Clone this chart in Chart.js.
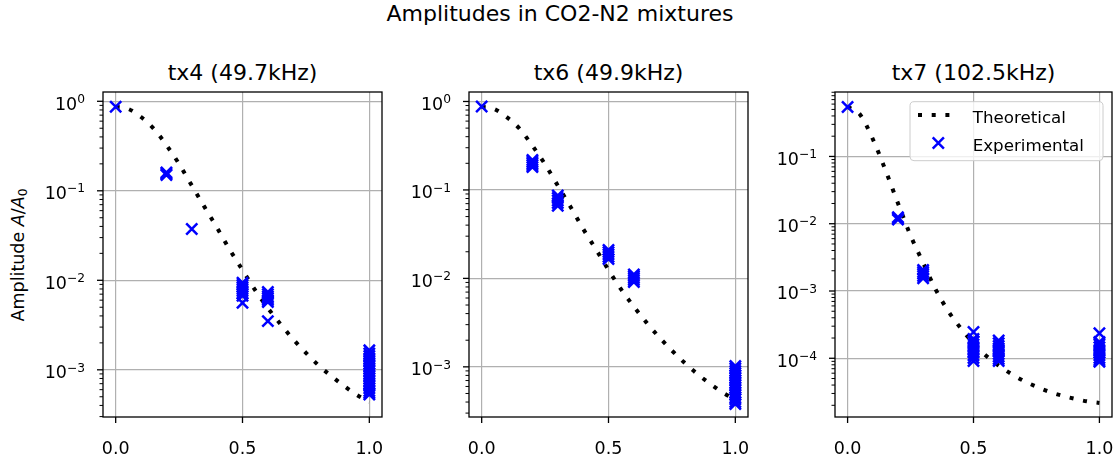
<!DOCTYPE html>
<html lang="en">
<head>
<meta charset="UTF-8">
<title>Amplitudes in CO2-N2 mixtures</title>
<script src="https://cdn.jsdelivr.net/npm/chart.js"></script>
<style>
  body { margin: 0; width: 1120px; height: 457px; background: #fff; position: relative; overflow: hidden;
         font-family: "DejaVu Sans", sans-serif; color: #000; }
  .title { position: absolute; font-size: 22px; line-height: 22px; white-space: nowrap; transform: translateX(-50%); }
  .panel { position: absolute; top: 88px; height: 367px; }
  #ylabel { position: absolute; font-size: 17.5px; line-height: 20px; white-space: nowrap; width: 200px;
            text-align: center; left: -81.7px; top: 245px; transform: rotate(-90deg); }
  #ylabel sub { font-size: 70%; vertical-align: -0.25em; line-height: 0; }
</style>
</head>
<body>
<div class="title" style="left:560px; top:3.4px;">Amplitudes in CO2-N2 mixtures</div>
<div class="title" style="left:242.5px; top:62.4px;">tx4 (49.7kHz)</div>
<div class="title" style="left:608.5px; top:62.4px;">tx6 (49.9kHz)</div>
<div class="title" style="left:973.5px; top:62.4px;">tx7 (102.5kHz)</div>
<div id="ylabel">Amplitude <i>A</i>/<i>A</i><sub>0</sub></div>

<div class="panel" style="left:43px; width:343px;"><canvas id="c1"></canvas></div>
<div class="panel" style="left:409px; width:343px;"><canvas id="c2"></canvas></div>
<div class="panel" style="left:775px; width:341px;"><canvas id="c3"></canvas></div>

<script>
// gas fraction axis for the theory curves
const xTheory = [0, 0.05, 0.1, 0.15, 0.2, 0.25, 0.3, 0.35, 0.4, 0.45, 0.5,
                 0.55, 0.6, 0.65, 0.7, 0.75, 0.8, 0.85, 0.9, 0.95, 1.0];
const xTicks = [0, 0.5, 1.0];

// tx4 (49.7kHz)
const tx4Theory = [0.871, 0.822, 0.668, 0.495, 0.324, 0.1995, 0.1148, 0.0661, 0.0385, 0.0219, 0.01303,
                   0.00776, 0.0049, 0.00324, 0.00219, 0.00155, 0.00112, 0.000851, 0.000661, 0.000525, 0.000437];
const tx4ExpX = [0, 0.2, 0.2, 0.2, 0.3,
                 0.5, 0.5, 0.5, 0.5, 0.5, 0.5, 0.5, 0.5,
                 0.6, 0.6, 0.6, 0.6, 0.6, 0.6, 0.6,
                 1, 1, 1, 1, 1, 1, 1, 1, 1, 1, 1, 1, 1, 1, 1, 1, 1, 1, 1];
const tx4ExpY = [0.87, 0.16, 0.155, 0.15, 0.0374,
                 0.0094, 0.0089, 0.0084, 0.0080, 0.0076, 0.0071, 0.0067, 0.0056,
                 0.0074, 0.0070, 0.0066, 0.0063, 0.0060, 0.0057, 0.0035,
                 0.00165, 0.00152, 0.00143, 0.00134, 0.00125, 0.00117, 0.00110, 0.00103, 0.00097, 0.00091,
                 0.00085, 0.00080, 0.00075, 0.00070, 0.00066, 0.00062, 0.00058, 0.00055, 0.00053];
const tx4YRange = [2.97e-4, 1.27];
const tx4YTicks = [1e-3, 1e-2, 1e-1, 1];

// tx6 (49.9kHz)
const tx6Theory = [0.871, 0.822, 0.661, 0.490, 0.316, 0.195, 0.112, 0.0646, 0.0363, 0.0214, 0.01245,
                   0.0075, 0.00479, 0.00316, 0.00216, 0.00153, 0.00111, 0.000832, 0.000646, 0.000513, 0.000427];
const tx6ExpX = [0, 0.2, 0.2, 0.2, 0.2, 0.2, 0.3, 0.3, 0.3, 0.3, 0.3,
                 0.5, 0.5, 0.5, 0.5, 0.5, 0.6, 0.6, 0.6, 0.6, 0.6,
                 1, 1, 1, 1, 1, 1, 1, 1, 1, 1, 1, 1, 1, 1, 1, 1, 1];
const tx6ExpY = [0.877, 0.218, 0.208, 0.199, 0.190, 0.181, 0.0865, 0.081, 0.076, 0.071, 0.066,
                 0.021, 0.0198, 0.0187, 0.0176, 0.0165, 0.0111, 0.0106, 0.0101, 0.0096, 0.0091,
                 0.00102, 0.00096, 0.00090, 0.00085, 0.00080, 0.00075, 0.00070, 0.00066, 0.00062,
                 0.00058, 0.00055, 0.00051, 0.00048, 0.00045, 0.00043, 0.00040, 0.00038];
const tx6YRange = [2.71e-4, 1.28];
const tx6YTicks = [1e-3, 1e-2, 1e-1, 1];

// tx7 (102.5kHz)
const tx7Theory = [0.547, 0.417, 0.182, 0.0631, 0.0202, 0.00668, 0.00263, 0.00105, 0.000501, 0.000278, 0.000167,
                   0.000109, 0.0000778, 0.0000585, 0.000046, 0.0000378, 0.0000319, 0.0000279, 0.0000251, 0.0000229, 0.0000217];
const tx7ExpX = [0, 0.2, 0.2, 0.2, 0.3, 0.3, 0.3, 0.3, 0.3,
                 0.5, 0.5, 0.5, 0.5, 0.5, 0.5, 0.5, 0.5, 0.5, 0.5,
                 0.6, 0.6, 0.6, 0.6, 0.6, 0.6, 0.6, 0.6, 0.6,
                 1, 1, 1, 1, 1, 1, 1, 1, 1, 1];
const tx7ExpY = [0.543, 0.0125, 0.0120, 0.0115, 0.00206, 0.00192, 0.00180, 0.00167, 0.00155,
                 0.000246, 0.000194, 0.000177, 0.000161, 0.000147, 0.000134, 0.000122, 0.000111, 0.000101, 0.0000912,
                 0.000184, 0.000168, 0.000153, 0.000140, 0.000128, 0.000116, 0.000106, 0.0000975, 0.0000912,
                 0.000235, 0.000175, 0.000160, 0.000146, 0.000133, 0.000121, 0.000111, 0.000101, 0.0000935, 0.0000885];
const tx7YRange = [1.34e-5, 0.908];
const tx7YTicks = [1e-4, 1e-3, 1e-2, 1e-1];

const BLUE = '#0000ff';
const GRID = '#b0b0b0';
const FONT = '"DejaVu Sans", sans-serif';

// box around the axes, matplotlib style tick marks and 10^n labels
const frame = {
    id: 'frame',
    afterDatasetsDraw(chart) {
        const { ctx, chartArea: a, scales: { x, y } } = chart;
        ctx.save();
        ctx.strokeStyle = '#000';
        ctx.lineWidth = 1.3;
        ctx.beginPath();
        x.ticks.forEach(t => {
            const px = x.getPixelForValue(t.value);
            ctx.moveTo(px, a.bottom);
            ctx.lineTo(px, a.bottom + 6);
        });
        ctx.stroke();
        const lo = Math.floor(Math.log10(y.min)), hi = Math.floor(Math.log10(y.max));
        for (let e = lo; e <= hi; e++) {
            for (let k = 1; k <= 9; k++) {
                const v = k * Math.pow(10, e);
                if (v < y.min || v > y.max) continue;
                const py = y.getPixelForValue(v);
                ctx.lineWidth = k === 1 ? 1.3 : 1;
                ctx.beginPath();
                ctx.moveTo(a.left, py);
                ctx.lineTo(a.left - (k === 1 ? 6 : 3.5), py);
                ctx.stroke();
            }
        }
        ctx.lineWidth = 1.3;
        ctx.strokeRect(a.left, a.top, a.right - a.left, a.bottom - a.top);

        // y tick labels: "10" with a raised, smaller exponent
        ctx.fillStyle = '#000';
        ctx.textAlign = 'right';
        ctx.textBaseline = 'alphabetic';
        const right = a.left - 18;
        y.ticks.forEach(t => {
            const py = y.getPixelForValue(t.value);
            const exp = Math.round(Math.log10(t.value));
            const supText = (exp < 0 ? '\u2212' : '') + Math.abs(exp);
            ctx.font = '12.25px ' + FONT;
            const sw = ctx.measureText(supText).width;
            ctx.fillText(supText, right, py + 1.7);
            ctx.font = '17.5px ' + FONT;
            ctx.fillText('10', right - sw, py + 8.3);
        });
        ctx.restore();
    }
};

// legend drawn inside the plot area, upper right
const innerLegend = {
    id: 'innerLegend',
    afterDatasetsDraw(chart) {
        const { ctx, chartArea: a } = chart;
        const w = 193, h = 59;
        const bx = a.right - 9 - w, by = a.top + 9.7;
        const exp = chart.data.datasets[0], theo = chart.data.datasets[1];
        ctx.save();
        ctx.beginPath();
        ctx.roundRect(bx, by, w, h, 4);
        ctx.fillStyle = 'rgba(255,255,255,0.8)';
        ctx.fill();
        ctx.strokeStyle = '#cccccc';
        ctx.lineWidth = 1;
        ctx.stroke();

        ctx.strokeStyle = theo.borderColor;
        ctx.lineWidth = theo.borderWidth;
        ctx.setLineDash(theo.borderDash);
        ctx.beginPath();
        ctx.moveTo(bx + 8, by + 13.3);
        ctx.lineTo(bx + 42, by + 13.3);
        ctx.stroke();
        ctx.setLineDash([]);

        const cx = bx + 28.3, cy = by + 41.3, r = 5.6;
        ctx.strokeStyle = exp.borderColor;
        ctx.lineWidth = exp.pointBorderWidth;
        ctx.beginPath();
        ctx.moveTo(cx - r, cy - r); ctx.lineTo(cx + r, cy + r);
        ctx.moveTo(cx + r, cy - r); ctx.lineTo(cx - r, cy + r);
        ctx.stroke();

        ctx.fillStyle = '#000';
        ctx.font = '16.7px ' + FONT;
        ctx.textAlign = 'left';
        ctx.textBaseline = 'alphabetic';
        ctx.fillText(theo.label, bx + 62.7, by + 21.6);
        ctx.fillText(exp.label, bx + 62.7, by + 49.3);
        ctx.restore();
    }
};

function makeChart(id, theory, expX, expY, yRange, yTicks, extra) {
    return new Chart(document.getElementById(id), {
        type: 'scatter',
        data: {
            datasets: [{
                label: 'Experimental',
                data: expX.map((x, i) => ({ x: x, y: expY[i] })),
                pointStyle: 'crossRot',
                pointRadius: 7.9,
                pointBorderWidth: 2.5,
                borderColor: BLUE,
                backgroundColor: BLUE,
                order: 0
            }, {
                label: 'Theoretical',
                data: xTheory.map((x, i) => ({ x: x, y: theory[i] })),
                showLine: true,
                borderColor: '#000',
                backgroundColor: '#000',
                borderWidth: 4,
                borderDash: [4, 9.7],
                borderCapStyle: 'butt',
                cubicInterpolationMode: 'monotone',
                pointRadius: 0,
                fill: false,
                order: 1
            }]
        },
        options: {
            responsive: true,
            maintainAspectRatio: false,
            animation: false,
            events: [],
            layout: { autoPadding: false, padding: { top: 4, right: 4, left: 0, bottom: 0 } },
            plugins: { legend: { display: false }, tooltip: { enabled: false } },
            scales: {
                x: {
                    type: 'linear',
                    min: -0.05,
                    max: 1.05,
                    afterBuildTicks: s => { s.ticks = xTicks.map(v => ({ value: v })); },
                    afterFit: s => { s.height = 38; s.paddingLeft = 0; s.paddingRight = 0; },
                    grid: { color: GRID, lineWidth: 1.2, drawTicks: false },
                    border: { display: false },
                    ticks: {
                        padding: 22, color: '#000', autoSkip: false, maxRotation: 0,
                        font: { family: FONT, size: 17.5 },
                        callback: v => Number(v).toFixed(1)
                    }
                },
                y: {
                    type: 'logarithmic',
                    min: yRange[0],
                    max: yRange[1],
                    afterBuildTicks: s => { s.ticks = yTicks.map(v => ({ value: v })); },
                    afterFit: s => { s.width = 60; s.paddingTop = 0; s.paddingBottom = 0; },
                    grid: { color: GRID, lineWidth: 1.2, drawTicks: false },
                    border: { display: false },
                    ticks: { display: false }
                }
            }
        },
        plugins: [frame].concat(extra || [])
    });
}

makeChart('c1', tx4Theory, tx4ExpX, tx4ExpY, tx4YRange, tx4YTicks);
makeChart('c2', tx6Theory, tx6ExpX, tx6ExpY, tx6YRange, tx6YTicks);
makeChart('c3', tx7Theory, tx7ExpX, tx7ExpY, tx7YRange, tx7YTicks, [innerLegend]);
</script>
</body>
</html>
